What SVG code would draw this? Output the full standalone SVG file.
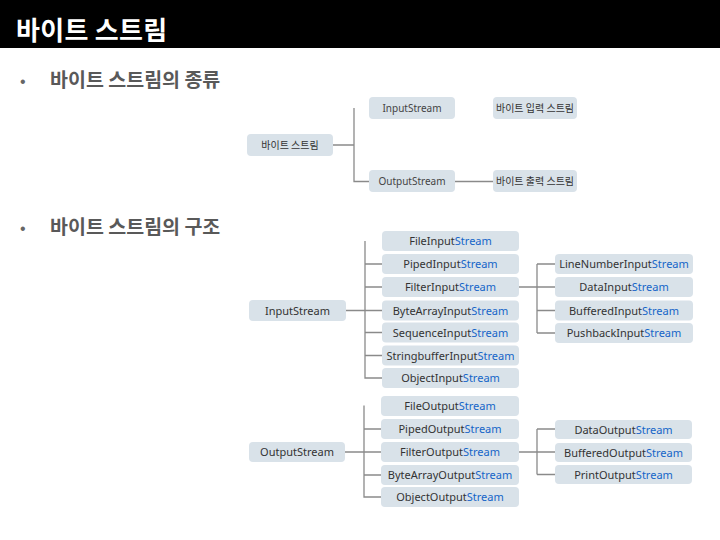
<svg xmlns="http://www.w3.org/2000/svg" width="720" height="540" viewBox="0 0 720 540">
<style>
.bx{fill:#d9e2e9}
.t{font-family:"Noto Sans","Noto Sans CJK KR",sans-serif;font-size:11px;fill:#333;text-anchor:middle}
.s{fill:#1565c8}
.tk{font-family:"Noto Sans CJK KR","Noto Sans",sans-serif;font-size:10px;fill:#333;text-anchor:middle}
.tl{font-family:"Noto Sans","Noto Sans CJK KR",sans-serif;font-size:10px;fill:#444;text-anchor:middle}
.ln{stroke:#8a8a8a;stroke-width:1.3;fill:none}
.h{font-family:"Noto Sans CJK KR",sans-serif;font-weight:bold}
</style>
<rect width="720" height="540" fill="#fff"/>
<rect width="720" height="48" fill="#000"/>
<text x="16" y="40" class="h" font-size="26" fill="#fff" letter-spacing="0.3">바이트 스트림</text>
<g id="bullet1"><text x="20" y="87" font-family="Liberation Sans,sans-serif" font-size="16" fill="#666">•</text>
<text x="50" y="87" class="h" font-size="19.5" fill="#595959">바이트 스트림의 종류</text></g>
<g id="bullet2"><text x="20" y="234" font-family="Liberation Sans,sans-serif" font-size="16" fill="#666">•</text>
<text x="50" y="234" class="h" font-size="19.5" fill="#595959">바이트 스트림의 구조</text></g>

<g id="connectors">
<path class="ln" d="M333 145H354M354 108V181.5H369M455 181.5H493"/>
<path class="ln" d="M346 310.5H365M365 241V378H382M365 264H382M365 287H382M365 310.5H382M365 332.5H382M365 355.5H382M519 287H555M537 264V333M537 264H555M537 310.5H555M537 333H555"/>
<path class="ln" d="M345 452H364M364 405.5V497H381M364 429H381M364 452H381M364 475H381M519 452H555M537 429V474.5M537 429H555M537 474.5H555"/>
</g>

<g id="n-bytestream"><rect class="bx" x="247" y="134" width="86" height="22" rx="4"/><text class="tk" x="290" y="148.5">바이트 스트림</text></g>
<g id="n-is-top"><rect class="bx" x="369" y="97" width="86" height="22" rx="4"/><text class="tl" x="412" y="111.5">InputStream</text></g>
<g id="n-is-kr"><rect class="bx" x="493" y="97" width="84" height="22" rx="4"/><text class="tk" x="535" y="111.5">바이트 입력 스트림</text></g>
<g id="n-os-top"><rect class="bx" x="369" y="170" width="86" height="22" rx="4"/><text class="tl" x="412" y="185">OutputStream</text></g>
<g id="n-os-kr"><rect class="bx" x="493" y="170" width="84" height="22" rx="4"/><text class="tk" x="535" y="185">바이트 출력 스트림</text></g>

<g id="n-InputStream"><rect class="bx" x="249" y="300" width="97" height="21" rx="4"/><text class="t" x="297.5" y="314.5">InputStream</text></g>
<g id="n-FileInputStream"><rect class="bx" x="382" y="231" width="137" height="20" rx="4"/><text class="t" x="450.5" y="245">FileInput<tspan class="s">Stream</tspan></text></g>
<g id="n-PipedInputStream"><rect class="bx" x="382" y="254" width="137" height="20" rx="4"/><text class="t" x="450.5" y="268">PipedInput<tspan class="s">Stream</tspan></text></g>
<g id="n-FilterInputStream"><rect class="bx" x="382" y="277" width="137" height="20" rx="4"/><text class="t" x="450.5" y="291">FilterInput<tspan class="s">Stream</tspan></text></g>
<g id="n-ByteArrayInputStream"><rect class="bx" x="382" y="300.5" width="137" height="20" rx="4"/><text class="t" x="450.5" y="314.5">ByteArrayInput<tspan class="s">Stream</tspan></text></g>
<g id="n-SequenceInputStream"><rect class="bx" x="382" y="322.5" width="137" height="20" rx="4"/><text class="t" x="450.5" y="336.5">SequenceInput<tspan class="s">Stream</tspan></text></g>
<g id="n-StringbufferInputStream"><rect class="bx" x="382" y="345.5" width="137" height="20" rx="4"/><text class="t" x="450.5" y="359.5">StringbufferInput<tspan class="s">Stream</tspan></text></g>
<g id="n-ObjectInputStream"><rect class="bx" x="382" y="368" width="137" height="20" rx="4"/><text class="t" x="450.5" y="382">ObjectInput<tspan class="s">Stream</tspan></text></g>
<g id="n-LineNumberInputStream"><rect class="bx" x="555" y="254" width="138" height="20" rx="4"/><text class="t" x="624" y="268">LineNumberInput<tspan class="s">Stream</tspan></text></g>
<g id="n-DataInputStream"><rect class="bx" x="555" y="277" width="138" height="20" rx="4"/><text class="t" x="624" y="291">DataInput<tspan class="s">Stream</tspan></text></g>
<g id="n-BufferedInputStream"><rect class="bx" x="555" y="300.5" width="138" height="20" rx="4"/><text class="t" x="624" y="314.5">BufferedInput<tspan class="s">Stream</tspan></text></g>
<g id="n-PushbackInputStream"><rect class="bx" x="555" y="323" width="138" height="20" rx="4"/><text class="t" x="624" y="337">PushbackInput<tspan class="s">Stream</tspan></text></g>

<g id="n-OutputStream"><rect class="bx" x="249" y="442" width="96" height="20" rx="4"/><text class="t" x="297" y="456">OutputStream</text></g>
<g id="n-FileOutputStream"><rect class="bx" x="381" y="396" width="138" height="20" rx="4"/><text class="t" x="450" y="410">FileOutput<tspan class="s">Stream</tspan></text></g>
<g id="n-PipedOutputStream"><rect class="bx" x="381" y="419" width="138" height="20" rx="4"/><text class="t" x="450" y="433">PipedOutput<tspan class="s">Stream</tspan></text></g>
<g id="n-FilterOutputStream"><rect class="bx" x="381" y="442" width="138" height="20" rx="4"/><text class="t" x="450" y="456">FilterOutput<tspan class="s">Stream</tspan></text></g>
<g id="n-ByteArrayOutputStream"><rect class="bx" x="381" y="465" width="138" height="20" rx="4"/><text class="t" x="450" y="479">ByteArrayOutput<tspan class="s">Stream</tspan></text></g>
<g id="n-ObjectOutputStream"><rect class="bx" x="381" y="487" width="138" height="20" rx="4"/><text class="t" x="450" y="501">ObjectOutput<tspan class="s">Stream</tspan></text></g>
<g id="n-DataOutputStream"><rect class="bx" x="555" y="420" width="137" height="19" rx="4"/><text class="t" x="623.5" y="433.5">DataOutput<tspan class="s">Stream</tspan></text></g>
<g id="n-BufferedOutputStream"><rect class="bx" x="555" y="443" width="137" height="19" rx="4"/><text class="t" x="623.5" y="456.5">BufferedOutput<tspan class="s">Stream</tspan></text></g>
<g id="n-PrintOutputStream"><rect class="bx" x="555" y="465" width="137" height="19" rx="4"/><text class="t" x="623.5" y="478.5">PrintOutput<tspan class="s">Stream</tspan></text></g>
</svg>
